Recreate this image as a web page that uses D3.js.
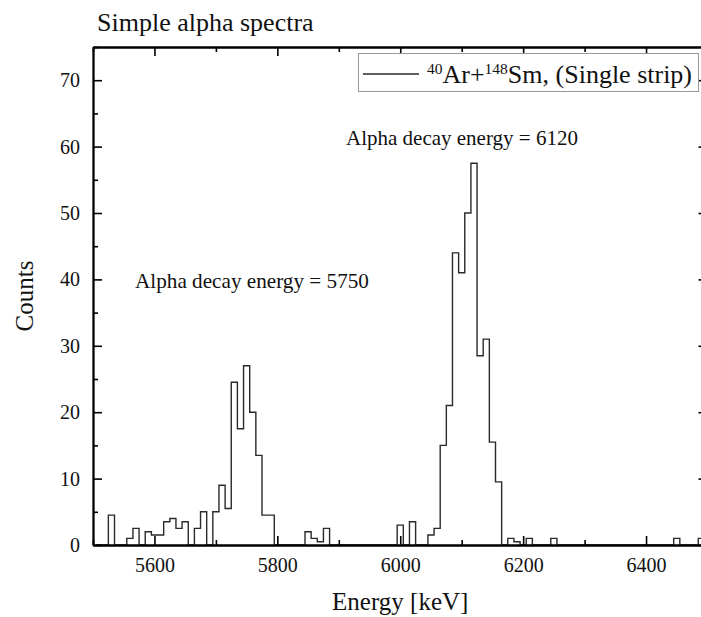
<!DOCTYPE html>
<html>
<head>
<meta charset="utf-8">
<script src="https://cdn.jsdelivr.net/npm/d3@7"></script>
<style>
  html, body { margin: 0; padding: 0; background: #fff; }
  svg { display: block; }
  text { font-family: "Liberation Serif", "Times New Roman", serif; fill: #111; }
</style>
</head>
<body>
<svg id="chart" width="701" height="617"></svg>
<script>
// ---- data (10 keV bins, bin centres in keV) ----
const binCenters = [
  5510,5520,5530,5540,5550,5560,5570,5580,5590,
  5600,5610,5620,5630,5640,5650,5660,5670,5680,5690,
  5700,5710,5720,5730,5740,5750,5760,5770,5780,5790,
  5800,5810,5820,5830,5840,5850,5860,5870,5880,5890,
  5900,5910,5920,5930,5940,5950,5960,5970,5980,5990,
  6000,6010,6020,6030,6040,6050,6060,6070,6080,6090,
  6100,6110,6120,6130,6140,6150,6160,6170,6180,6190,
  6200,6210,6220,6230,6240,6250,6260,6270,6280,6290,
  6300,6310,6320,6330,6340,6350,6360,6370,6380,6390,
  6400,6410,6420,6430,6440,6450,6460,6470,6480,6490
];
const counts = [
  0,0,4.5,0,0,1,2.5,0,2,
  1.5,1.5,3.5,4,2.5,3.5,0,2.5,5,0,
  5,9,5.5,24.5,17.5,27,20,13.5,4.5,4.5,
  0,0,0,0,0,2,1,0.5,2.5,0,
  0,0,0,0,0,0,0,0,0,0,
  3,0,3.5,0,0,1.5,2.5,15,21,44,
  41,50,57.5,28.5,31,15.5,9.5,0,1,0.5,
  0,1,0,0,0,1,0,0,0,0,
  0,0,0,0,0,0,0,0,0,0,
  0,0,0,0,0,1,0,0,0,1
];
const binWidth = 10;
const xDomain = [5500, 6500];
const yDomain = [0, 75];
const xMajorTicks = [5600, 5800, 6000, 6200, 6400];
const xMinorTicks = [5500, 5700, 5900, 6100, 6300, 6500];
const yMajorTicks = [0, 10, 20, 30, 40, 50, 60, 70];
const yMinorTicks = [5, 15, 25, 35, 45, 55, 65, 75];
const titleText = "Simple alpha spectra";
const xTitle = "Energy [keV]";
const yTitle = "Counts";
const annotations = [
  { text: "Alpha decay energy = 6120" },
  { text: "Alpha decay energy = 5750" }
];

// ---- layout ----
const FONT = '"Liberation Serif", "Times New Roman", serif';
const svg = d3.select("#chart");
const L = 93, R = 707.5, T = 47, B = 545;
const x = d3.scaleLinear().domain(xDomain).range([L, R]);
const y = d3.scaleLinear().domain(yDomain).range([B, T]);

svg.append("rect").attr("width", 701).attr("height", 617).attr("fill", "#fff");

// histogram (step outline)
const pts = [[binCenters[0] - binWidth / 2, 0]];
binCenters.forEach((c, i) => {
  pts.push([c - binWidth / 2, counts[i]]);
  pts.push([c + binWidth / 2, counts[i]]);
});
pts.push([binCenters[binCenters.length - 1] + binWidth / 2, 0]);
const line = d3.line().x(d => x(d[0])).y(d => y(d[1]));
svg.append("path")
  .attr("d", line(pts))
  .attr("fill", "none")
  .attr("stroke", "#2a2a2a")
  .attr("stroke-width", 1.4)
  .attr("stroke-linejoin", "miter");

// axes
function styleAxis(g) {
  g.attr("font-family", FONT);
  g.selectAll("path.domain").attr("stroke", "#000").attr("stroke-width", 1.8);
  g.selectAll(".tick line").attr("stroke", "#000").attr("stroke-width", 1.6);
  g.selectAll(".tick text").style("font-family", FONT).attr("fill", "#111");
}
// bottom
svg.append("g").attr("transform", `translate(0,${B})`)
  .call(d3.axisBottom(x).tickValues(xMinorTicks).tickSizeInner(-5).tickSizeOuter(0).tickFormat(""))
  .call(styleAxis);
const gxb = svg.append("g").attr("transform", `translate(0,${B})`)
  .call(d3.axisBottom(x).tickValues(xMajorTicks).tickSizeInner(-9).tickSizeOuter(0).tickPadding(13).tickFormat(d3.format("d")))
  .call(styleAxis);
gxb.selectAll(".tick text").attr("font-size", 20);
// top
svg.append("g").attr("transform", `translate(0,${T})`)
  .call(d3.axisTop(x).tickValues(xMinorTicks).tickSizeInner(-5).tickSizeOuter(0).tickFormat(""))
  .call(styleAxis);
svg.append("g").attr("transform", `translate(0,${T})`)
  .call(d3.axisTop(x).tickValues(xMajorTicks).tickSizeInner(-9).tickSizeOuter(0).tickFormat(""))
  .call(styleAxis);
// left
svg.append("g").attr("transform", `translate(${L},0)`)
  .call(d3.axisLeft(y).tickValues(yMinorTicks).tickSizeInner(-5).tickSizeOuter(0).tickFormat(""))
  .call(styleAxis);
const gyl = svg.append("g").attr("transform", `translate(${L},0)`)
  .call(d3.axisLeft(y).tickValues(yMajorTicks).tickSizeInner(-9).tickSizeOuter(0).tickPadding(13).tickFormat(d3.format("d")))
  .call(styleAxis);
gyl.selectAll(".tick text").attr("font-size", 20);
// right
svg.append("g").attr("transform", `translate(${R},0)`)
  .call(d3.axisRight(y).tickValues(yMinorTicks).tickSizeInner(-5).tickSizeOuter(0).tickFormat(""))
  .call(styleAxis);
svg.append("g").attr("transform", `translate(${R},0)`)
  .call(d3.axisRight(y).tickValues(yMajorTicks).tickSizeInner(-9).tickSizeOuter(0).tickFormat(""))
  .call(styleAxis);

// titles
svg.append("text").attr("x", 97).attr("y", 31).attr("font-size", 26).text(titleText);
svg.append("text").attr("x", (L + R) / 2).attr("y", 610).attr("text-anchor", "middle").attr("font-size", 25).text(xTitle);
svg.append("text").attr("transform", `translate(33,${(T + B) / 2}) rotate(-90)`).attr("text-anchor", "middle").attr("font-size", 25).text(yTitle);

// annotations
svg.append("text").attr("x", 346).attr("y", 145).attr("font-size", 21).text(annotations[0].text);
svg.append("text").attr("x", 135).attr("y", 288).attr("font-size", 21.2).text(annotations[1].text);

// legend
const lg = svg.append("g");
lg.append("rect").attr("x", 358.5).attr("y", 53.5).attr("width", 340).attr("height", 38)
  .attr("fill", "#fff").attr("stroke", "#999").attr("stroke-width", 1);
lg.append("line").attr("x1", 363).attr("x2", 419).attr("y1", 74).attr("y2", 74)
  .attr("stroke", "#2a2a2a").attr("stroke-width", 1.4);
const lt = lg.append("text").attr("x", 427).attr("y", 83).attr("font-size", 26);
lt.append("tspan").attr("font-size", 15.5).attr("dy", -9).text("40");
lt.append("tspan").attr("dy", 9).text("Ar+");
lt.append("tspan").attr("font-size", 15.5).attr("dy", -9).text("148");
lt.append("tspan").attr("dy", 9).text("Sm, (Single strip)");
</script>
</body>
</html>
